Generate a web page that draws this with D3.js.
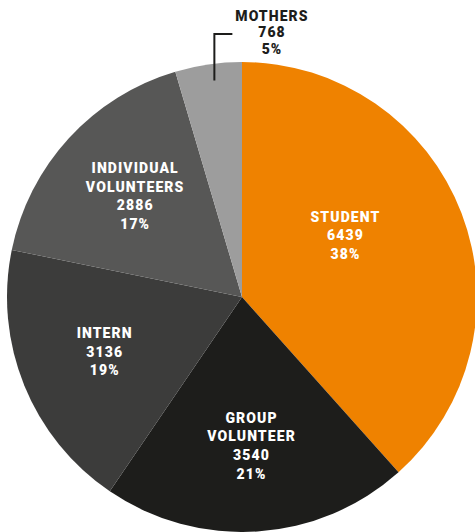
<!DOCTYPE html>
<html>
<head>
<meta charset="utf-8">
<script src="https://cdn.jsdelivr.net/npm/d3@7"></script>
<style>
  html, body { margin: 0; padding: 0; background: #fff; }
  svg { display: block; }
  text { font-family: Roboto, "Open Sans", sans-serif; font-weight: 900; font-size: 14px; letter-spacing: 1.1px; }
</style>
</head>
<body>
<svg id="chart" width="475" height="532"></svg>
<script>
// data
var categories = ["STUDENT", "GROUP VOLUNTEER", "INTERN", "INDIVIDUAL VOLUNTEERS", "MOTHERS"];
var values = [6439, 3540, 3136, 2886, 768];
var percents = ["38%", "21%", "19%", "17%", "5%"];
var colors = ["#ef8200", "#1d1d1b", "#3c3c3b", "#575756", "#9d9d9d"];

// label line breaks
var labelLines = [["STUDENT"], ["GROUP", "VOLUNTEER"], ["INTERN"], ["INDIVIDUAL", "VOLUNTEERS"], ["MOTHERS"]];

var svg = d3.select("#chart"),
    cx = 242,
    cy = 297,
    radius = 235;

var rows = categories.map(function(c, i){
  return {name: c, value: values[i], pct: percents[i], color: colors[i], lines: labelLines[i]};
});

var pie = d3.pie()
  .value(function(d){ return d.value; })
  .sort(null);

var arc = d3.arc().innerRadius(0).outerRadius(radius);
var labelArc = d3.arc().innerRadius(145).outerRadius(145);

var arcs = pie(rows);

var g = svg.append("g").attr("transform", "translate(" + cx + "," + cy + ")");

g.selectAll("path")
  .data(arcs)
  .enter()
  .append("path")
  .attr("d", arc)
  .attr("fill", function(d){ return d.data.color; });

// little nudges so labels sit like the original
var nudge = [[-32, -10], [0, 4], [-3, 0], [0, -3]];

var inside = arcs.slice(0, 4);
inside.forEach(function(d, i){
  var c = labelArc.centroid(d);
  var x = c[0] + nudge[i][0], y = c[1] + nudge[i][1];
  var lines = d.data.lines.concat([String(d.data.value), d.data.pct]);
  var lh = 18.7;
  var top = y - (lines.length - 1) * lh / 2 + 5;
  var t = g.append("text")
    .attr("text-anchor", "middle")
    .attr("fill", "#fff");
  lines.forEach(function(s, k){
    t.append("tspan").attr("x", x).attr("y", top + k * lh).text(s);
  });
});

// mothers: outside label with a bent leader line
var m = arcs[4];
var mAngle = (m.startAngle + m.endAngle) / 2;
var edgeY = -radius * Math.cos(mAngle);
var lx = radius * Math.sin(mAngle) * 0.82;
g.append("path")
  .attr("d", "M" + lx + "," + (edgeY + 16) + "V" + (34 - cy) + "H" + (lx + 18))
  .attr("fill", "none")
  .attr("stroke", "#1d1d1b")
  .attr("stroke-width", 2);

var mt = g.append("text")
  .attr("text-anchor", "middle")
  .attr("fill", "#1d1d1b");
[m.data.name, String(m.data.value), m.data.pct].forEach(function(s, k){
  mt.append("tspan").attr("x", 272 - cx).attr("y", 21 - cy + k * 16.3).text(s);
});
</script>
</body>
</html>
